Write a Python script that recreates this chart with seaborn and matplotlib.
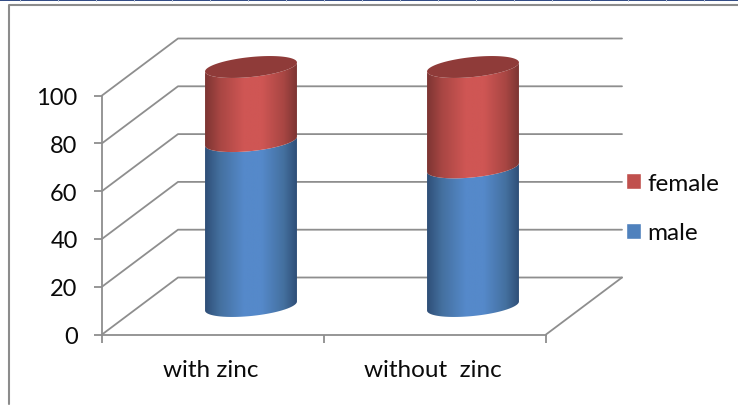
import numpy as np
import matplotlib
matplotlib.use("Agg")
import matplotlib.pyplot as plt
import seaborn as sns
from matplotlib.colors import LinearSegmentedColormap
from matplotlib.lines import Line2D
from matplotlib.patches import PathPatch, Patch
from matplotlib.path import Path
from matplotlib.transforms import ScaledTranslation

categories = ["with zinc", "without  zinc"]
male = [69, 58]
female = [31, 42]
value_ticks = [0, 20, 40, 60, 80, 100]

W, H = 738, 406
GRID = "#8e8e8e"
FONT = "Lato"

sns.set_theme(style="white", rc={"font.family": FONT})
fig = plt.figure(figsize=(W / 100, H / 100), dpi=100, facecolor="white")
# Front plane of the 3-D box, placed in figure fractions.
ax = fig.add_axes([102 / W, (H - 335.5) / H, 444 / W, 239 / H], facecolor="none")

sns.barplot(x=categories, y=male, color="#4F81BD", width=0.414, ax=ax, zorder=3)
n_male = len(ax.patches)
sns.barplot(x=categories, y=female, bottom=male, color="#C0504D", width=0.414, ax=ax, zorder=3)
ax.set_xlim(-0.5, 1.5)
ax.set_ylim(0, 100)

px_x = 222.0          # pixels per category
px_y = 2.39           # pixels per value unit
depth_x = 76 / px_x   # full box depth, in data units
depth_y = 57 / px_y

# Side wall, back wall and floor.
x0, x1 = -0.5, 1.5
wall = dict(color=GRID, lw=1.3, clip_on=False, zorder=1, solid_capstyle="round")
for v in value_ticks:
    ax.plot([x0, x0 + depth_x, x1 + depth_x], [v, v + depth_y, v + depth_y], **wall)
ax.plot([x1, x1 + depth_x], [0, depth_y], **wall)


def ramp(dark, mid, bright):
    return LinearSegmentedColormap.from_list(
        "shade", [(0, dark), (0.16, mid), (0.42, bright), (0.62, bright), (0.86, mid), (1, dark)]
    )


shades = [ramp("#2f4f78", "#44709f", "#5589ca"), ramp("#7d3533", "#a84643", "#cf5654")]
TOP_FACE = "#8f3b39"

SEMI_MINOR = 10 / px_y
TILT = 4.5 / px_y


def lower_arc(cx, cy, a, reverse=False):
    t = np.linspace(np.pi, 0, 60)
    if reverse:
        t = t[::-1]
    return np.column_stack([cx + a * np.cos(t), cy - SEMI_MINOR * np.sin(t) + TILT * np.cos(t)])


def cylinder_segment(rect, cmap):
    a = rect.get_width() / 2
    cx = rect.get_x() + a + depth_x / 2
    y0 = rect.get_y() + depth_y / 2
    y1 = y0 + rect.get_height()
    outline = np.vstack([lower_arc(cx, y0, a), lower_arc(cx, y1, a, reverse=True)])
    body = PathPatch(Path(np.vstack([outline, outline[0]]), closed=True), fc="none", ec="none", zorder=3)
    ax.add_patch(body)
    im = ax.imshow(
        np.linspace(0, 1, 128)[None, :], cmap=cmap, aspect="auto", interpolation="bilinear",
        extent=[cx - a, cx + a, y0 - 20, y1 + 20], zorder=3,
    )
    im.set_clip_path(body)
    im.set_clip_box(fig.bbox)
    return cx, y1, a


bars = list(ax.patches)
for i, rect in enumerate(bars):
    cmap = shades[0] if i < n_male else shades[1]
    rect.set_visible(False)
    cx, top, a = cylinder_segment(rect, cmap)
    if i >= n_male:
        t = np.linspace(0, 2 * np.pi, 120)
        cap = np.column_stack([cx + a * np.cos(t), top - SEMI_MINOR * np.sin(t) + TILT * np.cos(t)])
        ax.add_patch(PathPatch(Path(cap, closed=True), fc=TOP_FACE, ec="none", zorder=4, clip_on=False))

ax.set_xlim(-0.5, 1.5)
ax.set_ylim(0, 100)

# Axes, ticks and labels.
for side in ("top", "right"):
    ax.spines[side].set_visible(False)
for side in ("left", "bottom"):
    ax.spines[side].set_color(GRID)
    ax.spines[side].set_linewidth(1.3)
    ax.spines[side].set_zorder(2)
ax.set_yticks(value_ticks)
ax.set_xticks([0, 1])
ax.set_xticklabels(categories)
ax.set_xticks([-0.5, 0.5, 1.5], minor=True)
ax.tick_params(axis="x", which="major", length=0, pad=18, labelsize=17.5, labelcolor="#0a0a0a")
ax.tick_params(axis="x", which="minor", length=6, width=1.3, color=GRID, bottom=True)
ax.tick_params(axis="y", length=6, width=1.3, color=GRID, pad=11.5, labelsize=17, labelcolor="#0a0a0a", left=True)
nudge = ScaledTranslation(-2.5 / 100, 0, fig.dpi_scale_trans)
for label in ax.get_xticklabels():
    label.set_transform(label.get_transform() + nudge)

handles = [Patch(fc="#C0504D", label="female"), Patch(fc="#4F81BD", label="male")]
fig.legend(
    handles=handles, loc="upper left", bbox_to_anchor=(621 / W, 1 - 169 / H), frameon=False,
    fontsize=17.5, handlelength=0.62, handleheight=0.62, handletextpad=0.25,
    labelspacing=1.17, borderpad=0.2, borderaxespad=0, labelcolor="#0a0a0a",
)

# Outer chart frame and the strip above it.
def fig_line(xs, ys, **kw):
    fig.add_artist(Line2D([x / W for x in xs], [1 - y / H for y in ys], **kw))


fig_line([9, 9, W], [405, 5.5, 5.5], color="#8c8c8c", lw=1.5)
fig_line([0, W], [0.7, 0.7], color="#1f3a7a", lw=1.3)
for x in range(20, W, 38):
    fig_line([x, x], [0, 2], color="#b9c3d6", lw=0.7)

fig.savefig("out.png", dpi=100)
